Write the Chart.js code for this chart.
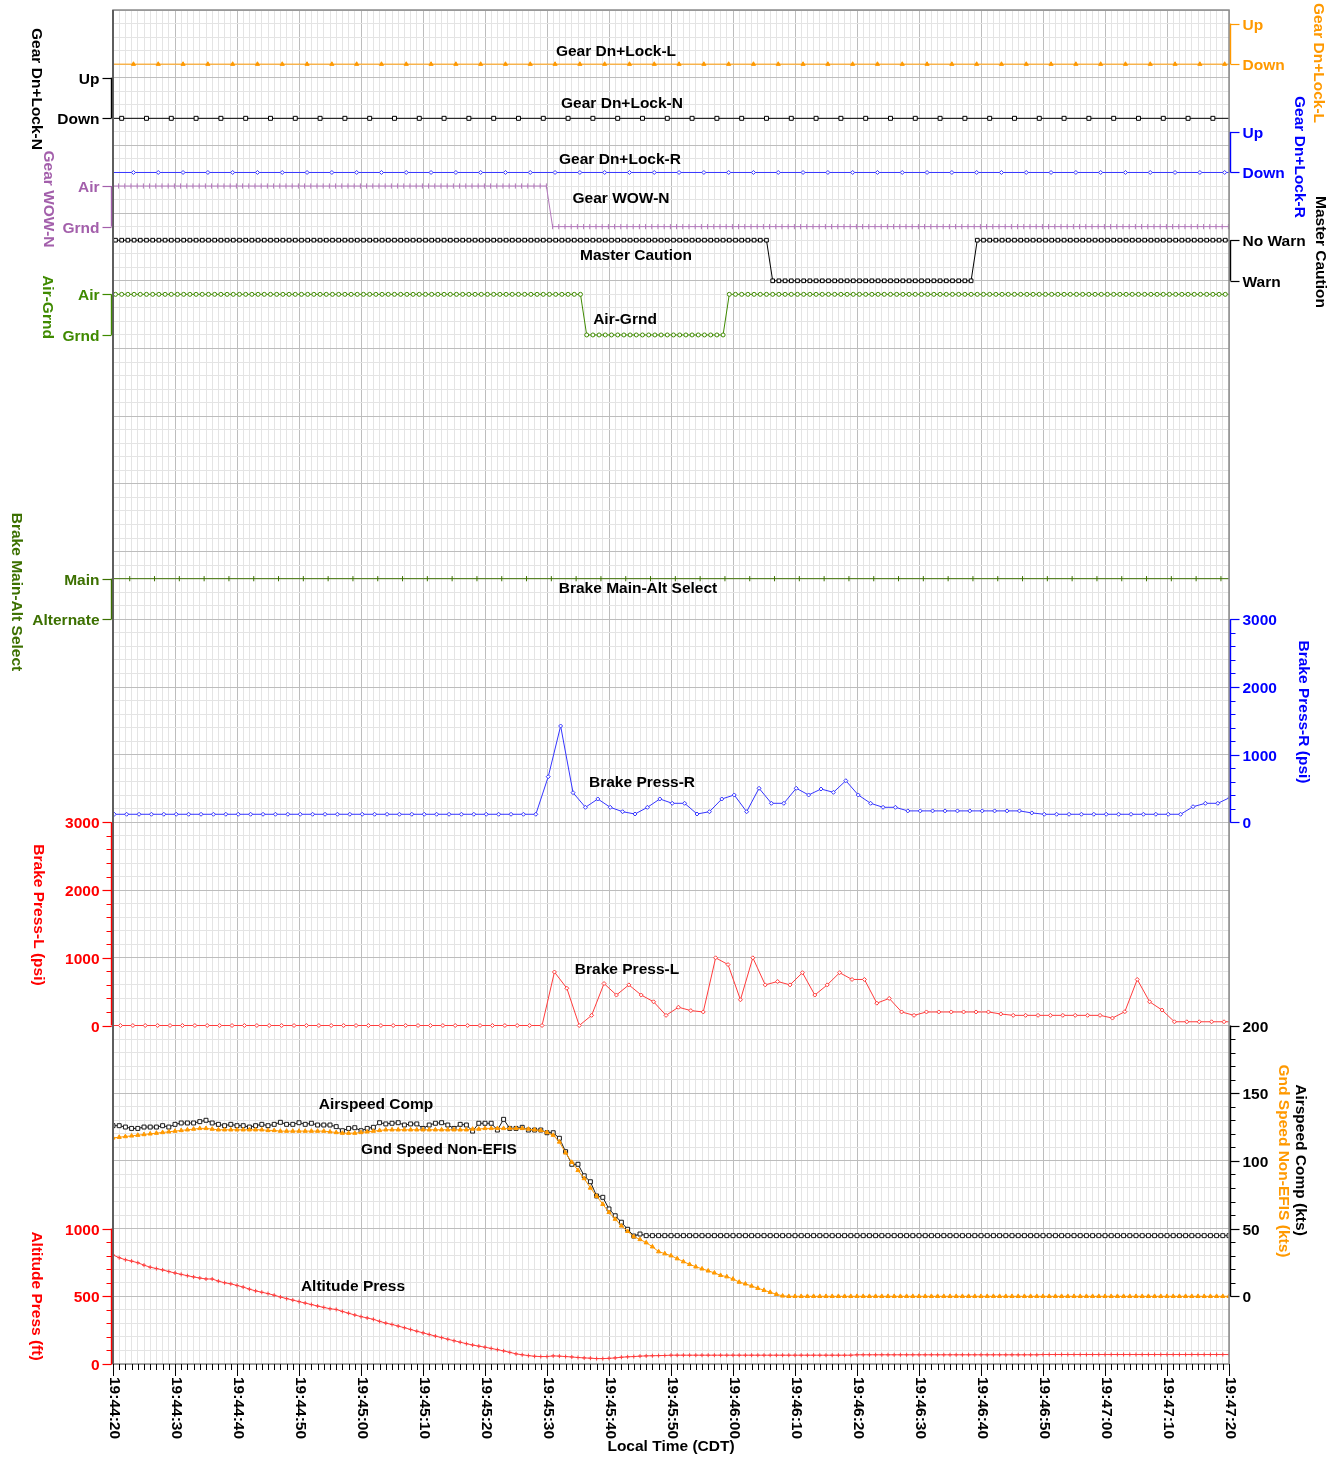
<!DOCTYPE html>
<html>
<head>
<meta charset="utf-8">
<script src="https://cdn.jsdelivr.net/npm/chart.js@4.4.1/dist/chart.umd.min.js"></script>
<style>
  html, body { margin: 0; padding: 0; background: #ffffff; }
  canvas { display: block; }
</style>
</head>
<body>
<canvas id="fdr" width="1343" height="1460"></canvas>
<script>
// ---- time axis (seconds after 19:44:20) ----
const timeTickLabels = ['19:44:20','19:44:30','19:44:40','19:44:50','19:45:00','19:45:10','19:45:20',
  '19:45:30','19:45:40','19:45:50','19:46:00','19:46:10','19:46:20','19:46:30','19:46:40',
  '19:46:50','19:47:00','19:47:10','19:47:20'];

// ---- discrete state names ----
const gearStates = ['Down', 'Up'];
const wowStates = ['Grnd', 'Air'];
const cautionStates = ['Warn', 'No Warn'];
const airGrndStates = ['Grnd', 'Air'];
const brakeSelStates = ['Alternate', 'Main'];

// ---- continuous axis tick values ----
const brakeTicks = [0, 1000, 2000, 3000];
const speedTicks = [0, 50, 100, 150, 200];
const altTicks = [0, 500, 1000];

// ---- gear down & locked (0 = Down, 1 = Up), 4 s samples ----
const gearLockL = [0,0,0,0,0,0,0,0,0,0, 0,0,0,0,0,0,0,0,0,0, 0,0,0,0,0,0,0,0,0,0, 0,0,0,0,0,0,0,0,0,0, 0,0,0,0,0,0,0];
const gearLockN = [0,0,0,0,0,0,0,0,0,0, 0,0,0,0,0,0,0,0,0,0, 0,0,0,0,0,0,0,0,0,0, 0,0,0,0,0,0,0,0,0,0, 0,0,0,0,0,0,0];
const gearLockR = [0,0,0,0,0,0,0,0,0,0, 0,0,0,0,0,0,0,0,0,0, 0,0,0,0,0,0,0,0,0,0, 0,0,0,0,0,0,0,0,0,0, 0,0,0,0,0,0,0];

// ---- brake main/alternate select (1 = Main), 4 s samples ----
const brakeSelect = [1,1,1,1,1,1,1,1,1,1, 1,1,1,1,1,1,1,1,1,1, 1,1,1,1,1,1,1,1,1,1, 1,1,1,1,1,1,1,1,1,1, 1,1,1,1,1,1,1];

// ---- nose gear weight-on-wheels (1 = Air), 1 s samples ----
const gearWowN = [
  1,1,1,1,1,1,1,1,1,1, 1,1,1,1,1,1,1,1,1,1, 1,1,1,1,1,1,1,1,1,1, 1,1,1,1,1,1,1,1,1,1,
  1,1,1,1,1,1,1,1,1,1, 1,1,1,1,1,1,1,1,1,1, 1,1,1,1,1,1,1,1,1,1, 1,0,0,0,0,0,0,0,0,0,
  0,0,0,0,0,0,0,0,0,0, 0,0,0,0,0,0,0,0,0,0, 0,0,0,0,0,0,0,0,0,0, 0,0,0,0,0,0,0,0,0,0,
  0,0,0,0,0,0,0,0,0,0, 0,0,0,0,0,0,0,0,0,0, 0,0,0,0,0,0,0,0,0,0, 0,0,0,0,0,0,0,0,0,0,
  0,0,0,0,0,0,0,0,0,0, 0,0,0,0,0,0,0,0,0,0, 0,0
];

// ---- master caution (1 = No Warn, 0 = Warn), 1 s samples ----
const masterCaution = [
  1,1,1,1,1,1,1,1,1,1, 1,1,1,1,1,1,1,1,1,1, 1,1,1,1,1,1,1,1,1,1, 1,1,1,1,1,1,1,1,1,1,
  1,1,1,1,1,1,1,1,1,1, 1,1,1,1,1,1,1,1,1,1, 1,1,1,1,1,1,1,1,1,1, 1,1,1,1,1,1,1,1,1,1,
  1,1,1,1,1,1,1,1,1,1, 1,1,1,1,1,1,1,1,1,1, 1,1,1,1,1,1,1,0,0,0, 0,0,0,0,0,0,0,0,0,0,
  0,0,0,0,0,0,0,0,0,0, 0,0,0,0,0,0,0,0,0,0, 1,1,1,1,1,1,1,1,1,1, 1,1,1,1,1,1,1,1,1,1,
  1,1,1,1,1,1,1,1,1,1, 1,1,1,1,1,1,1,1,1,1, 1,1
];

// ---- air / ground logic (1 = Air), 1 s samples ----
const airGrnd = [
  1,1,1,1,1,1,1,1,1,1, 1,1,1,1,1,1,1,1,1,1, 1,1,1,1,1,1,1,1,1,1, 1,1,1,1,1,1,1,1,1,1,
  1,1,1,1,1,1,1,1,1,1, 1,1,1,1,1,1,1,1,1,1, 1,1,1,1,1,1,1,1,1,1, 1,1,1,1,1,1,1,0,0,0,
  0,0,0,0,0,0,0,0,0,0, 0,0,0,0,0,0,0,0,0,0, 1,1,1,1,1,1,1,1,1,1, 1,1,1,1,1,1,1,1,1,1,
  1,1,1,1,1,1,1,1,1,1, 1,1,1,1,1,1,1,1,1,1, 1,1,1,1,1,1,1,1,1,1, 1,1,1,1,1,1,1,1,1,1,
  1,1,1,1,1,1,1,1,1,1, 1,1,1,1,1,1,1,1,1,1, 1,1
];

// ---- brake pressure right (psi), 2 s samples ----
const brakePressR = [
  120,120,120,120,120,120,120,120,120,120, 120,120,120,120,120,120,120,120,120,120,
  120,120,120,120,120,120,120,120,120,120, 120,120,120,120,120,120,
  675,1424,439,223,346,223,158,124,223,346, 282,282,124,158,346,405,158,504,282,282,
  504,405,493,444,616,405,282,223,223,
  170,170,170,170,170,170,170,170,170,170, 140,
  120,120,120,120,120,120,120,120,120,120,120,120,
  232,282,282,370
];

// ---- brake pressure left (psi), 2 s samples ----
const brakePressL = [
  0,0,0,0,0,0,0,0,0,0, 0,0,0,0,0,0,0,0,0,0, 0,0,0,0,0,0,0,0,0,0, 0,0,0,0,0,0,
  790,550,0,150,620,450,600,450,350,150, 270,220,200,1000,900,380,1000,600,650,600,
  780,450,600,780,680,680,330,400,200,150, 200,200,200,200,200,200,170,
  150,150,150,150,150,150,150,150, 110,204,680,350,228,55, 55,55,55,55,55
];

// ---- computed airspeed (kts), 1 s samples ----
const airspeedComp = [
  126,126,125,124,124,125,125,125,126,125,
  127,128,128,128,129,130,128,127,126,127,
  126,126,125,126,127,126,127,128.5,127,127,
  128.2,127,127.8,126.5,126.5,126.5,125.3,122.3,124,124.5,
  122.3,124,124.8,128.2,127.3,127.8,128.2,126.5,127.3,127.3,
  124,126.5,127.8,128.2,126.5,124,127,126.5,122,127.8,
  127.8,127.8,122.8,130.7,124,124,124.8,122.8,122.8,122.8,
  120.8,120.8,116.7,106.8,97.5,97.5,89,84.6,74.1,73.1,
  64.5,59.5,54.7,49.5,44.5,46,44.8,44.8,44.8,44.8,
  44.8,44.8,44.8,44.8,44.8,44.8,44.8,44.8,44.8,44.8,
  44.8,44.8,44.8,44.8,44.8,44.8,44.8,44.8,44.8,44.8,
  44.8,44.8,44.8,44.8,44.8,44.8,44.8,44.8,44.8,44.8,
  44.8,44.8,44.8,44.8,44.8,44.8,44.8,44.8,44.8,44.8,
  44.8,44.8,44.8,44.8,44.8,44.8,44.8,44.8,44.8,44.8,
  44.8,44.8,44.8,44.8,44.8,44.8,44.8,44.8,44.8,44.8,
  44.8,44.8,44.8,44.8,44.8,44.8,44.8,44.8,44.8,44.8,
  44.8,44.8,44.8,44.8,44.8,44.8,44.8,44.8,44.8,44.8,
  44.8,44.8,44.8,44.8,44.8,44.8,44.8,44.8,44.8,44.8,
  44.8
];

// ---- ground speed, non-EFIS (kts), 1 s samples ----
const gndSpeed = [
  117,117.5,118,118.5,119,119.5,120,120.5,121,121.5,
  122,122.5,123,123.5,124,124,123.5,123,123,123,
  123,123,123,123,123,122.5,122.5,122,122,122,
  122,122,122,122,122,121.5,121,120.5,120.5,120.5,
  121,121.5,122,122.5,123,123,123,123,123,123,
  123,123,123,123,123,123,123,123,123.5,123.5,
  124,124,124,124,124,124,124,123.5,123,122.5,
  121,119,114,106,99,93,87,80,74,68,
  62,57,52,48,44,42,39.6,36.6,33,31.5,
  30,27.8,25.6,23.6,21.8,20.3,18.8,17.3,15.5,14.5,
  12.8,10.5,9.2,7.6,6,4.5,3,1.5,0.3,0,
  0,0,0,0,0,0,0,0,0,0, 0,0,0,0,0,0,0,0,0,0,
  0,0,0,0,0,0,0,0,0,0, 0,0,0,0,0,0,0,0,0,0,
  0,0,0,0,0,0,0,0,0,0, 0,0,0,0,0,0,0,0,0,0,
  0,0,0,0,0,0,0,0,0,0, 0
];

// ---- pressure altitude (ft), 1 s samples ----
const altitudePress = [
  805,785,770,760,748,730,715,705,695,683,
  672,662,652,643,635,628,628,612,600,592,
  580,568,553,540,530,520,508,495,483,472,
  461,450,439,428,418,408,403,388,375,362,
  350,340,330,315,302,292,280,268,255,242,
  230,218,206,195,183,172,161,150,140,132,
  124,115,106,97,86,75,68,62,57,55,
  55,60,58,55,52,48,45,43,40,40,
  42,45,50,53,55,58,60,61,62,63,
  65,65,65,65,65,65,65,65,65,65,
  65,65,65,65,65,65,65,65,65,65,
  65,65,65,65,65,65,65,65,65,65,
  68,68,68,68,68,68,68,68,68,68,
  68,68,68,68,68,68,68,68,68,68,
  68,68,68,68,68,68,68,68,68,68,
  70,70,70,70,70,70,70,70,70,70,
  70,70,70,70,70,70,70,70,70,70,
  70,70,70,70,70,70,70,70,70,70,
  70
];

// pair each value with its sample time
function sampled(start, step, values) {
  return values.map((v, i) => ({ x: start + step * i, y: v }));
}

// The plot is divided into 20 equal rows; each signal owns a band of rows.
const ROWS = 20;
function band(rowTop, rowBottom, valueTop, valueBottom) {
  const rowsPerUnit = (rowBottom - rowTop) / (valueTop - valueBottom);
  return {
    type: 'linear', display: false,
    max: valueTop + rowTop / rowsPerUnit,
    min: valueBottom - (ROWS - rowBottom) / rowsPerUnit
  };
}

const C = {
  orange: '#ff9900', black: '#000000', blue: '#0000ff', lineBlue: '#3535ff',
  purple: '#a35fab', linePurple: '#b377bb', green: '#3f8a00', darkGreen: '#3c7000',
  red: '#ff0000', lineRed: '#ff3c3c',
  gridMajor: '#bdbdbd', gridMinor: '#e4e4e4'
};
const FONT = 'bold 15.5px "Liberation Sans", Arial, sans-serif';

function line(label, axis, data, color, extra) {
  return Object.assign({
    label, yAxisID: axis, data,
    borderColor: color, backgroundColor: color,
    pointBorderColor: color, pointBackgroundColor: color,
    borderWidth: 1, pointBorderWidth: 1, pointRadius: 2, pointHoverRadius: 0,
    tension: 0, fill: false
  }, extra || {});
}

const datasets = [
  line('Gear Dn+Lock-L', 'yGearL', sampled(-0.7, 4, gearLockL), C.orange,
    { pointStyle: 'triangle', pointRadius: 2.4 }),
  line('Gear Dn+Lock-N', 'yGearN', sampled(-2.6, 4, gearLockN), C.black,
    { pointStyle: 'rect', pointRadius: 2.8, pointBackgroundColor: '#ffffff' }),
  line('Gear Dn+Lock-R', 'yGearR', sampled(-0.7, 4, gearLockR), C.lineBlue,
    { pointStyle: 'rectRot', pointRadius: 2, pointBackgroundColor: '#ffffff' }),
  line('Gear WOW-N', 'yWow', sampled(-0.1, 1, gearWowN), C.linePurple,
    { pointStyle: 'line', pointRotation: 90, pointRadius: 2.6 }),
  line('Master Caution', 'yCaution', sampled(-0.6, 1, masterCaution), C.black,
    { pointStyle: 'rect', pointRadius: 2.6, pointBackgroundColor: '#ffffff' }),
  line('Air-Grnd', 'yAirGrnd', sampled(-0.6, 1, airGrnd), C.green,
    { pointStyle: 'circle', pointRadius: 2, pointBackgroundColor: '#ffffff' }),
  line('Brake Main-Alt Select', 'yBrakeSel', sampled(-1.3, 4, brakeSelect), C.darkGreen,
    { pointStyle: 'line', pointRotation: 90, pointRadius: 2.6 }),
  line('Brake Press-R', 'yBrakeR', sampled(-1.8, 2, brakePressR), C.lineBlue,
    { pointStyle: 'rectRot', pointRadius: 2, pointBackgroundColor: '#ffffff' }),
  line('Brake Press-L', 'yBrakeL', sampled(-0.8, 2, brakePressL), C.lineRed,
    { pointStyle: 'rectRot', pointRadius: 2, pointBackgroundColor: '#ffffff' }),
  line('Altitude Press', 'yAlt', sampled(0, 1, altitudePress), C.lineRed,
    { pointStyle: 'cross', pointRadius: 2 }),
  line('Gnd Speed Non-EFIS', 'ySpeed', sampled(0, 1, gndSpeed), C.orange,
    { pointStyle: 'triangle', pointRadius: 2.4 }),
  line('Airspeed Comp', 'ySpeed', sampled(0, 1, airspeedComp), '#1a1a1a',
    { pointStyle: 'rect', pointRadius: 2.8, pointBackgroundColor: '#ffffff' })
];

// Axis decorations: drawn beside the plot for each band
const axisDecor = [
  { id: 'yGearN', side: 'left', color: C.black, ticks: [0, 1], names: gearStates,
    title: 'Gear Dn+Lock-N', tx: 36, ty: 89 },
  { id: 'yWow', side: 'left', color: C.purple, ticks: [0, 1], names: wowStates,
    title: 'Gear WOW-N', tx: 48, ty: 199 },
  { id: 'yAirGrnd', side: 'left', color: C.green, ticks: [0, 1], names: airGrndStates,
    title: 'Air-Grnd', tx: 47, ty: 307 },
  { id: 'yBrakeSel', side: 'left', color: C.darkGreen, ticks: [0, 1], names: brakeSelStates,
    title: 'Brake Main-Alt Select', tx: 16, ty: 592 },
  { id: 'yBrakeL', side: 'left', color: C.red, ticks: brakeTicks, minor: 200,
    title: 'Brake Press-L (psi)', tx: 38, ty: 915 },
  { id: 'yAlt', side: 'left', color: C.red, ticks: altTicks, minor: 100,
    title: 'Altitude Press (ft)', tx: 36, ty: 1296 },
  { id: 'yGearL', side: 'right', color: C.orange, ticks: [0, 1], names: gearStates,
    title: 'Gear Dn+Lock-L', tx: 1318, ty: 63 },
  { id: 'yGearR', side: 'right', color: C.blue, ticks: [0, 1], names: gearStates,
    title: 'Gear Dn+Lock-R', tx: 1299, ty: 157 },
  { id: 'yCaution', side: 'right', color: C.black, ticks: [0, 1], names: cautionStates,
    title: 'Master Caution', tx: 1320, ty: 252 },
  { id: 'yBrakeR', side: 'right', color: C.blue, ticks: brakeTicks, minor: 200,
    title: 'Brake Press-R (psi)', tx: 1303, ty: 712 },
  { id: 'ySpeed', side: 'right', color: C.black, ticks: speedTicks, minor: 10,
    title: 'Airspeed Comp (kts)', tx: 1300, ty: 1160 },
  { id: 'ySpeed', side: 'right', color: C.orange, ticks: [], title: 'Gnd Speed Non-EFIS (kts)',
    tx: 1283, ty: 1161, titleOnly: true }
];

const seriesTags = [
  { text: 'Gear Dn+Lock-L', x: 616, y: 52 },
  { text: 'Gear Dn+Lock-N', x: 622, y: 104 },
  { text: 'Gear Dn+Lock-R', x: 620, y: 160 },
  { text: 'Gear WOW-N', x: 621, y: 199 },
  { text: 'Master Caution', x: 636, y: 256 },
  { text: 'Air-Grnd', x: 625, y: 320 },
  { text: 'Brake Main-Alt Select', x: 638, y: 589 },
  { text: 'Brake Press-R', x: 642, y: 783 },
  { text: 'Brake Press-L', x: 627, y: 970 },
  { text: 'Airspeed Comp', x: 376, y: 1105 },
  { text: 'Gnd Speed Non-EFIS', x: 439, y: 1150 },
  { text: 'Altitude Press', x: 353, y: 1287 }
];

function rotatedText(ctx, text, x, y, align) {
  ctx.save();
  ctx.translate(x, y);
  ctx.rotate(Math.PI / 2);
  ctx.textAlign = align;
  ctx.textBaseline = 'middle';
  ctx.fillText(text, 0, 0);
  ctx.restore();
}

const decorPlugin = {
  id: 'decor',
  afterDraw(chart) {
    const ctx = chart.ctx;
    const a = chart.chartArea;
    const xs = chart.scales.x;
    ctx.save();

    // plot frame
    ctx.strokeStyle = '#8c8c8c';
    ctx.lineWidth = 1.5;
    ctx.strokeRect(a.left, a.top, a.right - a.left, a.bottom - a.top);
    ctx.strokeStyle = '#5e5e5e';
    ctx.lineWidth = 2;
    ctx.beginPath(); ctx.moveTo(a.left, a.top); ctx.lineTo(a.left, a.bottom); ctx.stroke();

    ctx.font = FONT;

    // band axes
    axisDecor.forEach(ax => {
      const s = chart.scales[ax.id];
      const left = ax.side === 'left';
      const x0 = left ? a.left - 1.5 : a.right + 1.5;
      const dir = left ? -1 : 1;
      ctx.fillStyle = ax.color;
      ctx.strokeStyle = ax.color;
      if (!ax.titleOnly) {
        const lo = ax.ticks[0], hi = ax.ticks[ax.ticks.length - 1];
        ctx.lineWidth = 1.4;
        ctx.beginPath();
        ctx.moveTo(x0, s.getPixelForValue(hi));
        ctx.lineTo(x0, s.getPixelForValue(lo));
        ctx.stroke();
        if (ax.minor) {
          ctx.lineWidth = 1;
          for (let v = lo; v <= hi; v += ax.minor) {
            const y = Math.round(s.getPixelForValue(v)) + 0.5;
            ctx.beginPath(); ctx.moveTo(x0, y); ctx.lineTo(x0 + dir * 5, y); ctx.stroke();
          }
        }
        ctx.lineWidth = 1.2;
        ctx.textAlign = left ? 'right' : 'left';
        ctx.textBaseline = 'middle';
        ax.ticks.forEach((v, i) => {
          const y = Math.round(s.getPixelForValue(v)) + 0.5;
          ctx.beginPath(); ctx.moveTo(x0, y); ctx.lineTo(x0 + dir * 9, y); ctx.stroke();
          const name = ax.names ? ax.names[i] : String(v);
          ctx.fillText(name, x0 + dir * 12, y + 1);
        });
      }
      rotatedText(ctx, ax.title, ax.tx, ax.ty, 'center');
    });

    // series tags inside the plot
    ctx.fillStyle = '#000000';
    ctx.textAlign = 'center';
    ctx.textBaseline = 'middle';
    seriesTags.forEach(t => ctx.fillText(t.text, t.x, t.y));

    // time axis: one tick per second, labels every ten
    ctx.strokeStyle = '#000000';
    ctx.lineWidth = 1;
    for (let sec = 0; sec <= 180; sec++) {
      const x = Math.round(xs.getPixelForValue(sec)) + 0.5;
      const len = sec % 10 === 0 ? 12 : 6;
      ctx.beginPath(); ctx.moveTo(x, a.bottom); ctx.lineTo(x, a.bottom + len); ctx.stroke();
    }
    ctx.fillStyle = '#000000';
    timeTickLabels.forEach((lbl, i) => {
      const x = xs.getPixelForValue(i * 10);
      rotatedText(ctx, lbl, x + 1, a.bottom + 13, 'left');
    });
    ctx.textAlign = 'center';
    ctx.textBaseline = 'middle';
    ctx.fillText('Local Time (CDT)', (a.left + a.right) / 2 + 113 - 113 + 112 - 112, 1447);

    ctx.restore();
  }
};

const scales = {
  x: {
    type: 'linear', min: 0, max: 180,
    ticks: { display: false, stepSize: 1, autoSkip: false },
    grid: {
      drawTicks: false, lineWidth: 1,
      color: c => (c.tick && Math.round(c.tick.value) % 10 === 0 ? C.gridMajor : C.gridMinor)
    },
    border: { display: false }
  },
  yGrid: {
    type: 'linear', position: 'left', min: 0, max: ROWS, reverse: true,
    ticks: { display: false, stepSize: 0.2 },
    grid: {
      drawTicks: false, lineWidth: 1,
      color: c => (c.tick && Math.round(c.tick.value * 5) % 5 === 0 ? C.gridMajor : C.gridMinor)
    },
    border: { display: false }
  },
  yGearL: band(0.2, 0.8, 1, 0),
  yGearN: band(1.0, 1.6, 1, 0),
  yGearR: band(1.8, 2.4, 1, 0),
  yWow: band(2.6, 3.2, 1, 0),
  yCaution: band(3.4, 4.0, 1, 0),
  yAirGrnd: band(4.2, 4.8, 1, 0),
  yBrakeSel: band(8.4, 9.0, 1, 0),
  yBrakeR: band(9, 12, 3000, 0),
  yBrakeL: band(12, 15, 3000, 0),
  ySpeed: band(15, 19, 200, 0),
  yAlt: band(18, 20, 1000, 0)
};

new Chart(document.getElementById('fdr'), {
  type: 'line',
  data: { datasets },
  options: {
    responsive: false,
    animation: false,
    layout: { padding: { left: 113, right: 114, top: 10, bottom: 96 } },
    scales,
    plugins: { legend: { display: false }, tooltip: { enabled: false } },
    elements: { line: { tension: 0 } }
  },
  plugins: [decorPlugin]
});
</script>
</body>
</html>
